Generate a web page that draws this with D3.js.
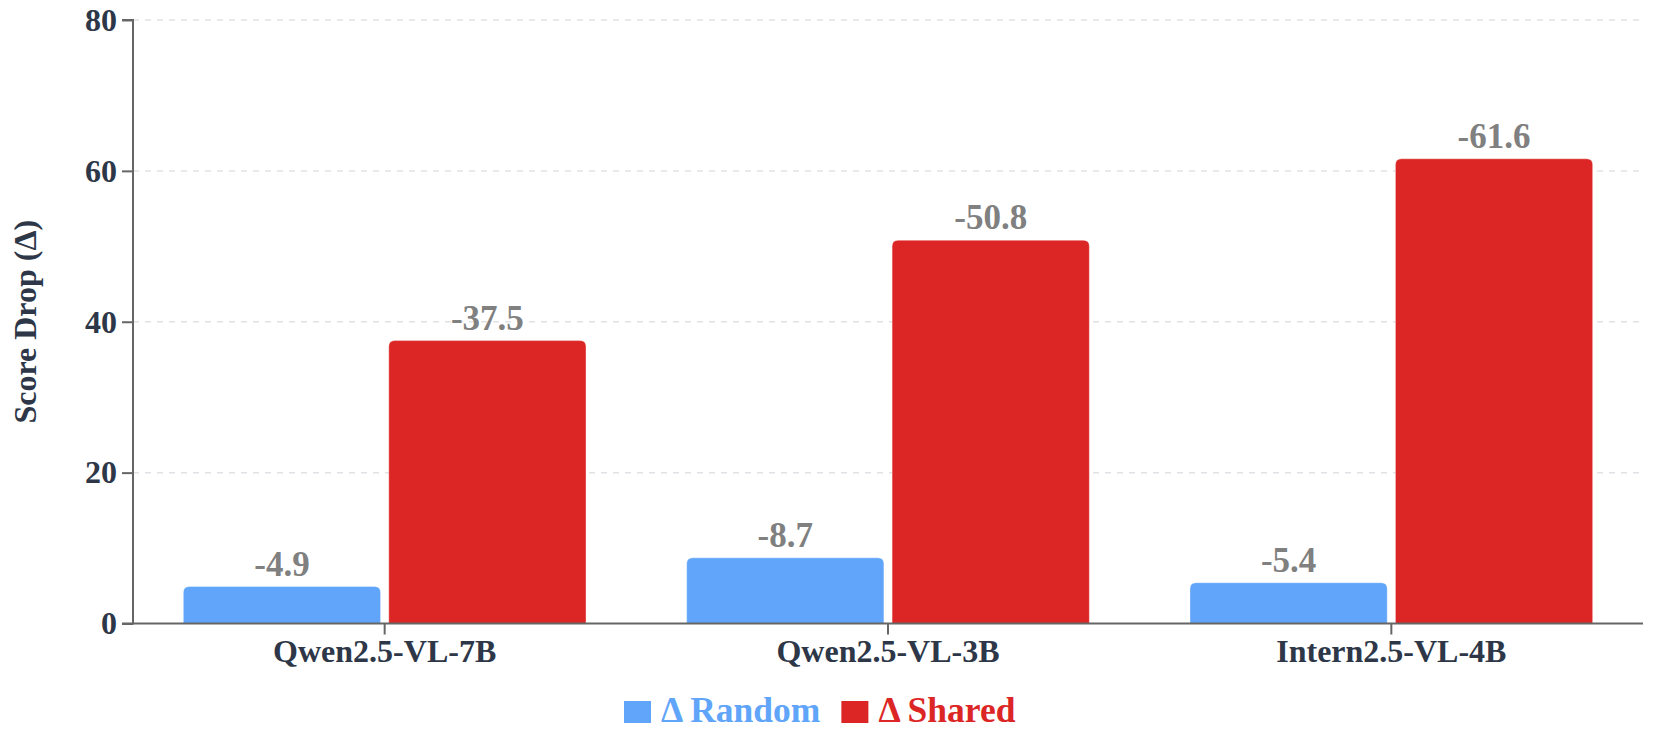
<!DOCTYPE html>
<html>
<head>
<meta charset="utf-8">
<script src="https://cdn.jsdelivr.net/npm/d3@7"></script>
<style>
  html, body { margin: 0; padding: 0; background: #fff; }
  svg { display: block; font-family: "Liberation Serif", "Times New Roman", serif; }
</style>
</head>
<body>
<svg id="chart" width="1662" height="729"></svg>
<script>
const categories = ["Qwen2.5-VL-7B", "Qwen2.5-VL-3B", "Intern2.5-VL-4B"];
const seriesNames = ["Δ Random", "Δ Shared"];
const randomDrop = [4.9, 8.7, 5.4];
const sharedDrop = [37.5, 50.8, 61.6];
const yTicks = [0, 20, 40, 60, 80];
const colors = ["#60a5fa", "#dc2626"];

(function () {
const svg = d3.select("#chart");
const mLeft = 133, mRight = 1643, mTop = 20, mBottom = 623.5;

const x0 = d3.scaleBand().domain(categories).range([mLeft, mRight]).paddingInner(0.2).paddingOuter(0.1);
const x1 = d3.scaleBand().domain(seriesNames).range([0, x0.bandwidth()]).paddingInner(0.04);
const y = d3.scaleLinear().domain([0, 80]).range([mBottom, mTop]);

const textColor = "#2d3748";

// gridlines
svg.append("g").selectAll("line").data(yTicks.filter(d => d > 0)).join("line")
  .attr("x1", mLeft).attr("x2", mRight)
  .attr("y1", d => y(d)).attr("y2", d => y(d))
  .attr("stroke", "#e2e2e6").attr("stroke-width", 1.5).attr("stroke-dasharray", "6,6");

// bars
const rows = categories.map((c, i) => ({ cat: c, vals: [randomDrop[i], sharedDrop[i]] }));
function topRounded(x, yTop, w, h, r) {
  r = Math.min(r, h, w / 2);
  return `M${x},${yTop + h}V${yTop + r}Q${x},${yTop} ${x + r},${yTop}H${x + w - r}Q${x + w},${yTop} ${x + w},${yTop + r}V${yTop + h}Z`;
}
const g = svg.append("g").selectAll("g").data(rows).join("g")
  .attr("transform", d => `translate(${x0(d.cat)},0)`);
g.selectAll("path").data(d => d.vals.map((v, j) => ({ name: seriesNames[j], v, j }))).join("path")
  .attr("d", d => topRounded(x1(d.name), y(d.v), x1.bandwidth(), y(0) - y(d.v), 6))
  .attr("fill", d => colors[d.j])
  .attr("stroke", "rgba(255,255,255,0.35)").attr("stroke-width", 1);
g.selectAll("text").data(d => d.vals.map((v, j) => ({ name: seriesNames[j], v, j }))).join("text")
  .attr("x", d => x1(d.name) + x1.bandwidth() / 2)
  .attr("y", d => y(d.v) - 11)
  .attr("text-anchor", "middle")
  .attr("font-size", 35).attr("font-weight", "bold").attr("fill", "#808080")
  .text(d => "-" + d.v.toFixed(1));

// y axis
const yAxis = svg.append("g").attr("transform", `translate(${mLeft},0)`)
  .call(d3.axisLeft(y).tickValues(yTicks).tickSize(11).tickPadding(5));
// x axis
const xAxis = svg.append("g").attr("transform", `translate(0,${mBottom})`)
  .call(d3.axisBottom(x0).tickSize(11).tickPadding(8));
[yAxis, xAxis].forEach(a => {
  a.select(".domain").attr("stroke", "#666").attr("stroke-width", 2);
  a.selectAll(".tick line").attr("stroke", "#666").attr("stroke-width", 2);
  a.selectAll(".tick text").attr("fill", textColor).attr("font-weight", "bold")
    .attr("font-family", "Liberation Serif, Times New Roman, serif");
});
yAxis.select(".domain").attr("d", `M-11,${mTop}H0V${mBottom}H-11`);
xAxis.select(".domain").attr("d", `M${mLeft},0H${mRight}`);
yAxis.selectAll(".tick text").attr("font-size", 32);
xAxis.selectAll(".tick text").attr("font-size", 32).attr("y", 38).attr("dy", 0);

// y title
svg.append("text")
  .attr("transform", `translate(36,${(mTop + mBottom) / 2}) rotate(-90)`)
  .attr("text-anchor", "middle")
  .attr("font-size", 32).attr("font-weight", "bold").attr("fill", textColor)
  .text("Score Drop (Δ)");

// legend
const legend = svg.append("g").attr("transform", "translate(624,0)");
let lx = 0;
seriesNames.forEach((name, i) => {
  legend.append("rect").attr("x", lx).attr("y", 701).attr("width", 27).attr("height", 22).attr("fill", colors[i]);
  const t = legend.append("text").attr("x", lx + 37).attr("y", 721.5)
    .attr("font-size", 35.5).attr("font-weight", "bold").attr("fill", colors[i]).text(name);
  lx += 37 + t.node().getComputedTextLength() + 21;
});
})();
</script>
</body>
</html>
